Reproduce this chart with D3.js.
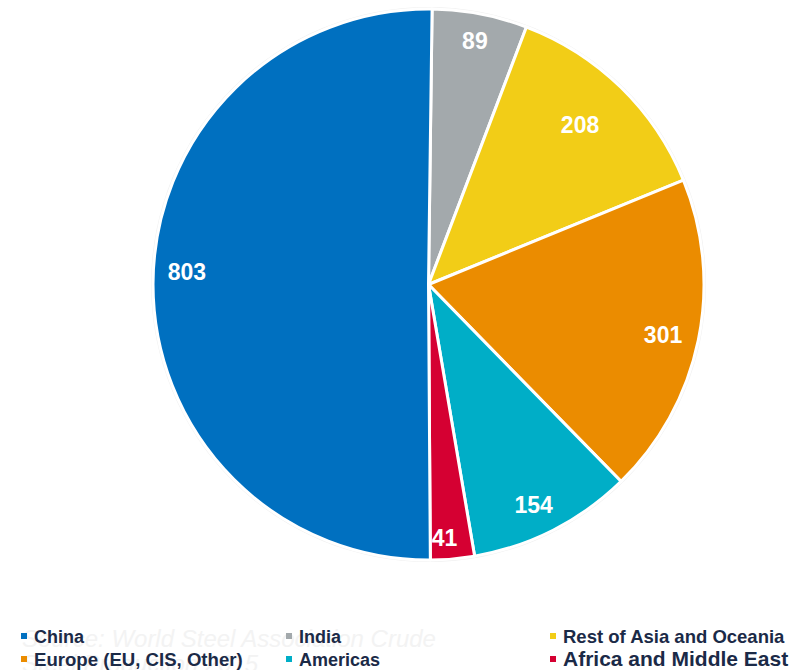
<!DOCTYPE html>
<html><head><meta charset="utf-8">
<script src="https://cdn.jsdelivr.net/npm/d3@7"></script>
<style>body{margin:0;background:#fff;}svg{display:block;font-family:"Liberation Sans",Arial,sans-serif;}</style>
</head><body>
<svg id="c" width="807" height="670"></svg>
<script>
const categories = ["India","Rest of Asia and Oceania","Europe (EU, CIS, Other)","Americas","Africa and Middle East","China"];
const values = [89, 208, 301, 154, 41, 803];
const colors = ["#a3a9ac","#f2cd17","#eb8c00","#00aec7","#d50032","#0070c0"];
const legendOrder = ["China","India","Rest of Asia and Oceania","Europe (EU, CIS, Other)","Americas","Africa and Middle East"];

const svg = d3.select("#c");
const cx = 428.5, cy = 284.5, R = 275.5;
const rot = 0.013;
const g = svg.append("g").attr("transform", `translate(${cx},${cy})`);
g.append("circle").attr("r", R + 2).attr("fill", "#f1f1f1");
const pie = d3.pie().sort(null).value(d => d).startAngle(rot).endAngle(2*Math.PI + rot)(values);
const arc = d3.arc().innerRadius(0).outerRadius(R);
g.selectAll("path.s").data(pie).join("path").attr("class","s")
  .attr("d", arc).attr("fill", (d,i) => colors[i])
  .attr("stroke", "#fff").attr("stroke-width", 3).attr("stroke-linejoin","round");
const lr = [248, 220, 240, 244, 254, 242];
const da = [0, -0.013, 0.01, 0.026, 0.024, 0.05];
g.selectAll("text.l").data(pie).join("text").attr("class","l")
  .attr("transform", (d,i) => { const a=(d.startAngle+d.endAngle)/2 + da[i]; return `translate(${Math.sin(a)*lr[i]},${-Math.cos(a)*lr[i]})`; })
  .attr("text-anchor","middle").attr("dominant-baseline","central")
  .attr("fill","#fff").attr("font-weight","bold").attr("font-size", 23)
  .text(d => d.data);

// faint source note
const src = svg.append("g").attr("font-style","italic").attr("font-size",24).attr("fill","#f3f3f3");
src.append("text").attr("x",22).attr("y",647).text("Source: World Steel Association Crude");
src.append("text").attr("x",22).attr("y",672).text("Steel Production 2015");

const pos = {
  "China":[21,643,18],
  "India":[286,643,18],
  "Rest of Asia and Oceania":[550,643,18.5],
  "Europe (EU, CIS, Other)":[21,666,18.6],
  "Americas":[286,666,18],
  "Africa and Middle East":[550,666,21]
};
const lg = svg.append("g");
legendOrder.forEach(name => {
  const [x,y,fs] = pos[name];
  const i = categories.indexOf(name);
  lg.append("rect").attr("x",x).attr("y",y-10).attr("width",6).attr("height",6).attr("fill",colors[i]);
  lg.append("text").attr("x",x+13).attr("y",y).attr("font-size",fs).attr("font-weight","bold")
    .attr("fill","#1b2a47").text(name);
});
</script>
</body></html>
